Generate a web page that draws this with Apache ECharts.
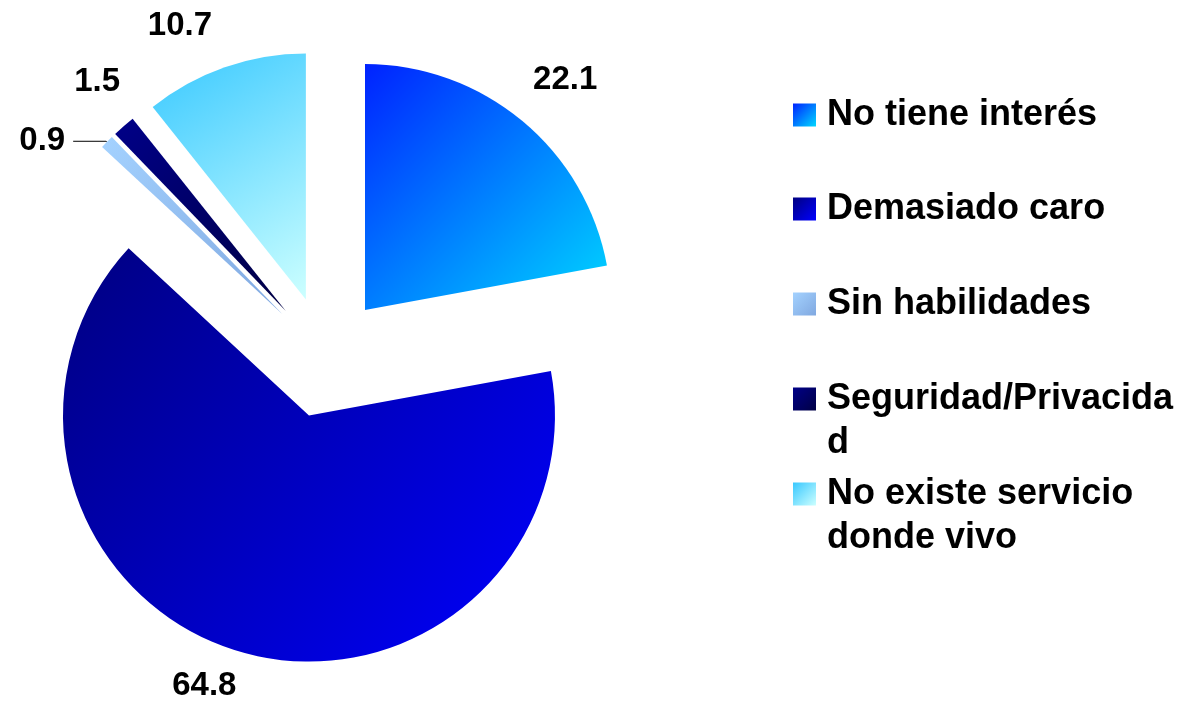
<!DOCTYPE html>
<html>
<head>
<meta charset="utf-8">
<script src="https://cdn.jsdelivr.net/npm/echarts@6/dist/echarts.min.js"></script>
<style>
  html, body { margin: 0; padding: 0; background: #fff; }
  #main { width: 1189px; height: 703px; }
</style>
</head>
<body>
<div id="main"></div>
<script>
var categories = ['No tiene interés', 'Demasiado caro', 'Sin habilidades', 'Seguridad/Privacidad', 'No existe servicio donde vivo'];
var values = [22.1, 64.8, 0.9, 1.5, 10.7];
// gradient ends for each slice
var colorFrom = ['#0022ff', '#000080', '#a4d2ff', '#000088', '#38c8ff'];
var colorTo = ['#00d8ff', '#0000ff', '#80a8e0', '#000044', '#ccffff'];

// label placement tweaks (radial length, then small shift)
var labelLen = [59, 43, 1, 51, 54];
var labelShift = [[5, 4], [-24, -7], [0, 0], [7, -6], [-27, 10]];
var legendTops = [93, 187, 282, 333, 428];

var font = '"Liberation Sans", Arial, sans-serif';
var chart = echarts.init(document.getElementById('main'));

var pieData = categories.map(function (name, i) {
  return {
    name: name,
    value: values[i],
    selected: true,
    itemStyle: {
      color: new echarts.graphic.LinearGradient(0, 0, 1, 1, [
        { offset: 0, color: colorFrom[i] },
        { offset: 1, color: colorTo[i] }
      ])
    },
    label: { distanceToLabelLine: 0 },
    labelLine: { show: false, length: labelLen[i], length2: 0 }
  };
});
// the small slice has a leader line
pieData[2].label = { distanceToLabelLine: 8 };
pieData[2].labelLine = { show: true, length: 1, length2: 33, lineStyle: { color: '#000', width: 1 } };

var legends = categories.map(function (name, i) {
  var twoLine = i >= 3;
  var ts = {
    fontFamily: font,
    fontWeight: 'bold',
    fontSize: 36,
    lineHeight: 44,
    color: '#000',
    width: 357,
    overflow: i === 3 ? 'breakAll' : 'break',
    padding: [0, 0, 0, 6]
  };
  if (twoLine) {
    // rich text so the top padding keeps the first line next to the icon
    ts.padding = [44, 0, 0, 6];
    ts.rich = { x: {} };
  }
  return {
    data: [name],
    orient: 'vertical',
    left: 793,
    top: legendTops[i],
    padding: 0,
    itemWidth: 23,
    itemHeight: 23,
    icon: 'rect',
    selectedMode: false,
    textStyle: ts
  };
});

chart.setOption({
  animation: false,
  legend: legends,
  series: [{
    type: 'pie',
    center: [326, 357],
    radius: 246,
    startAngle: 90,
    clockwise: true,
    selectedMode: 'multiple',
    selectedOffset: 61,
    avoidLabelOverlap: false,
    itemStyle: { borderWidth: 0 },
    emphasis: { disabled: true },
    label: {
      show: true,
      position: 'outside',
      formatter: '{c}',
      fontFamily: font,
      fontWeight: 'bold',
      fontSize: 33,
      color: '#000'
    },
    labelLayout: function (p) {
      if (p.dataIndex === 2) return {};
      return {
        align: 'center',
        dx: labelShift[p.dataIndex][0],
        dy: labelShift[p.dataIndex][1]
      };
    },
    data: pieData
  }]
});
</script>
</body>
</html>
